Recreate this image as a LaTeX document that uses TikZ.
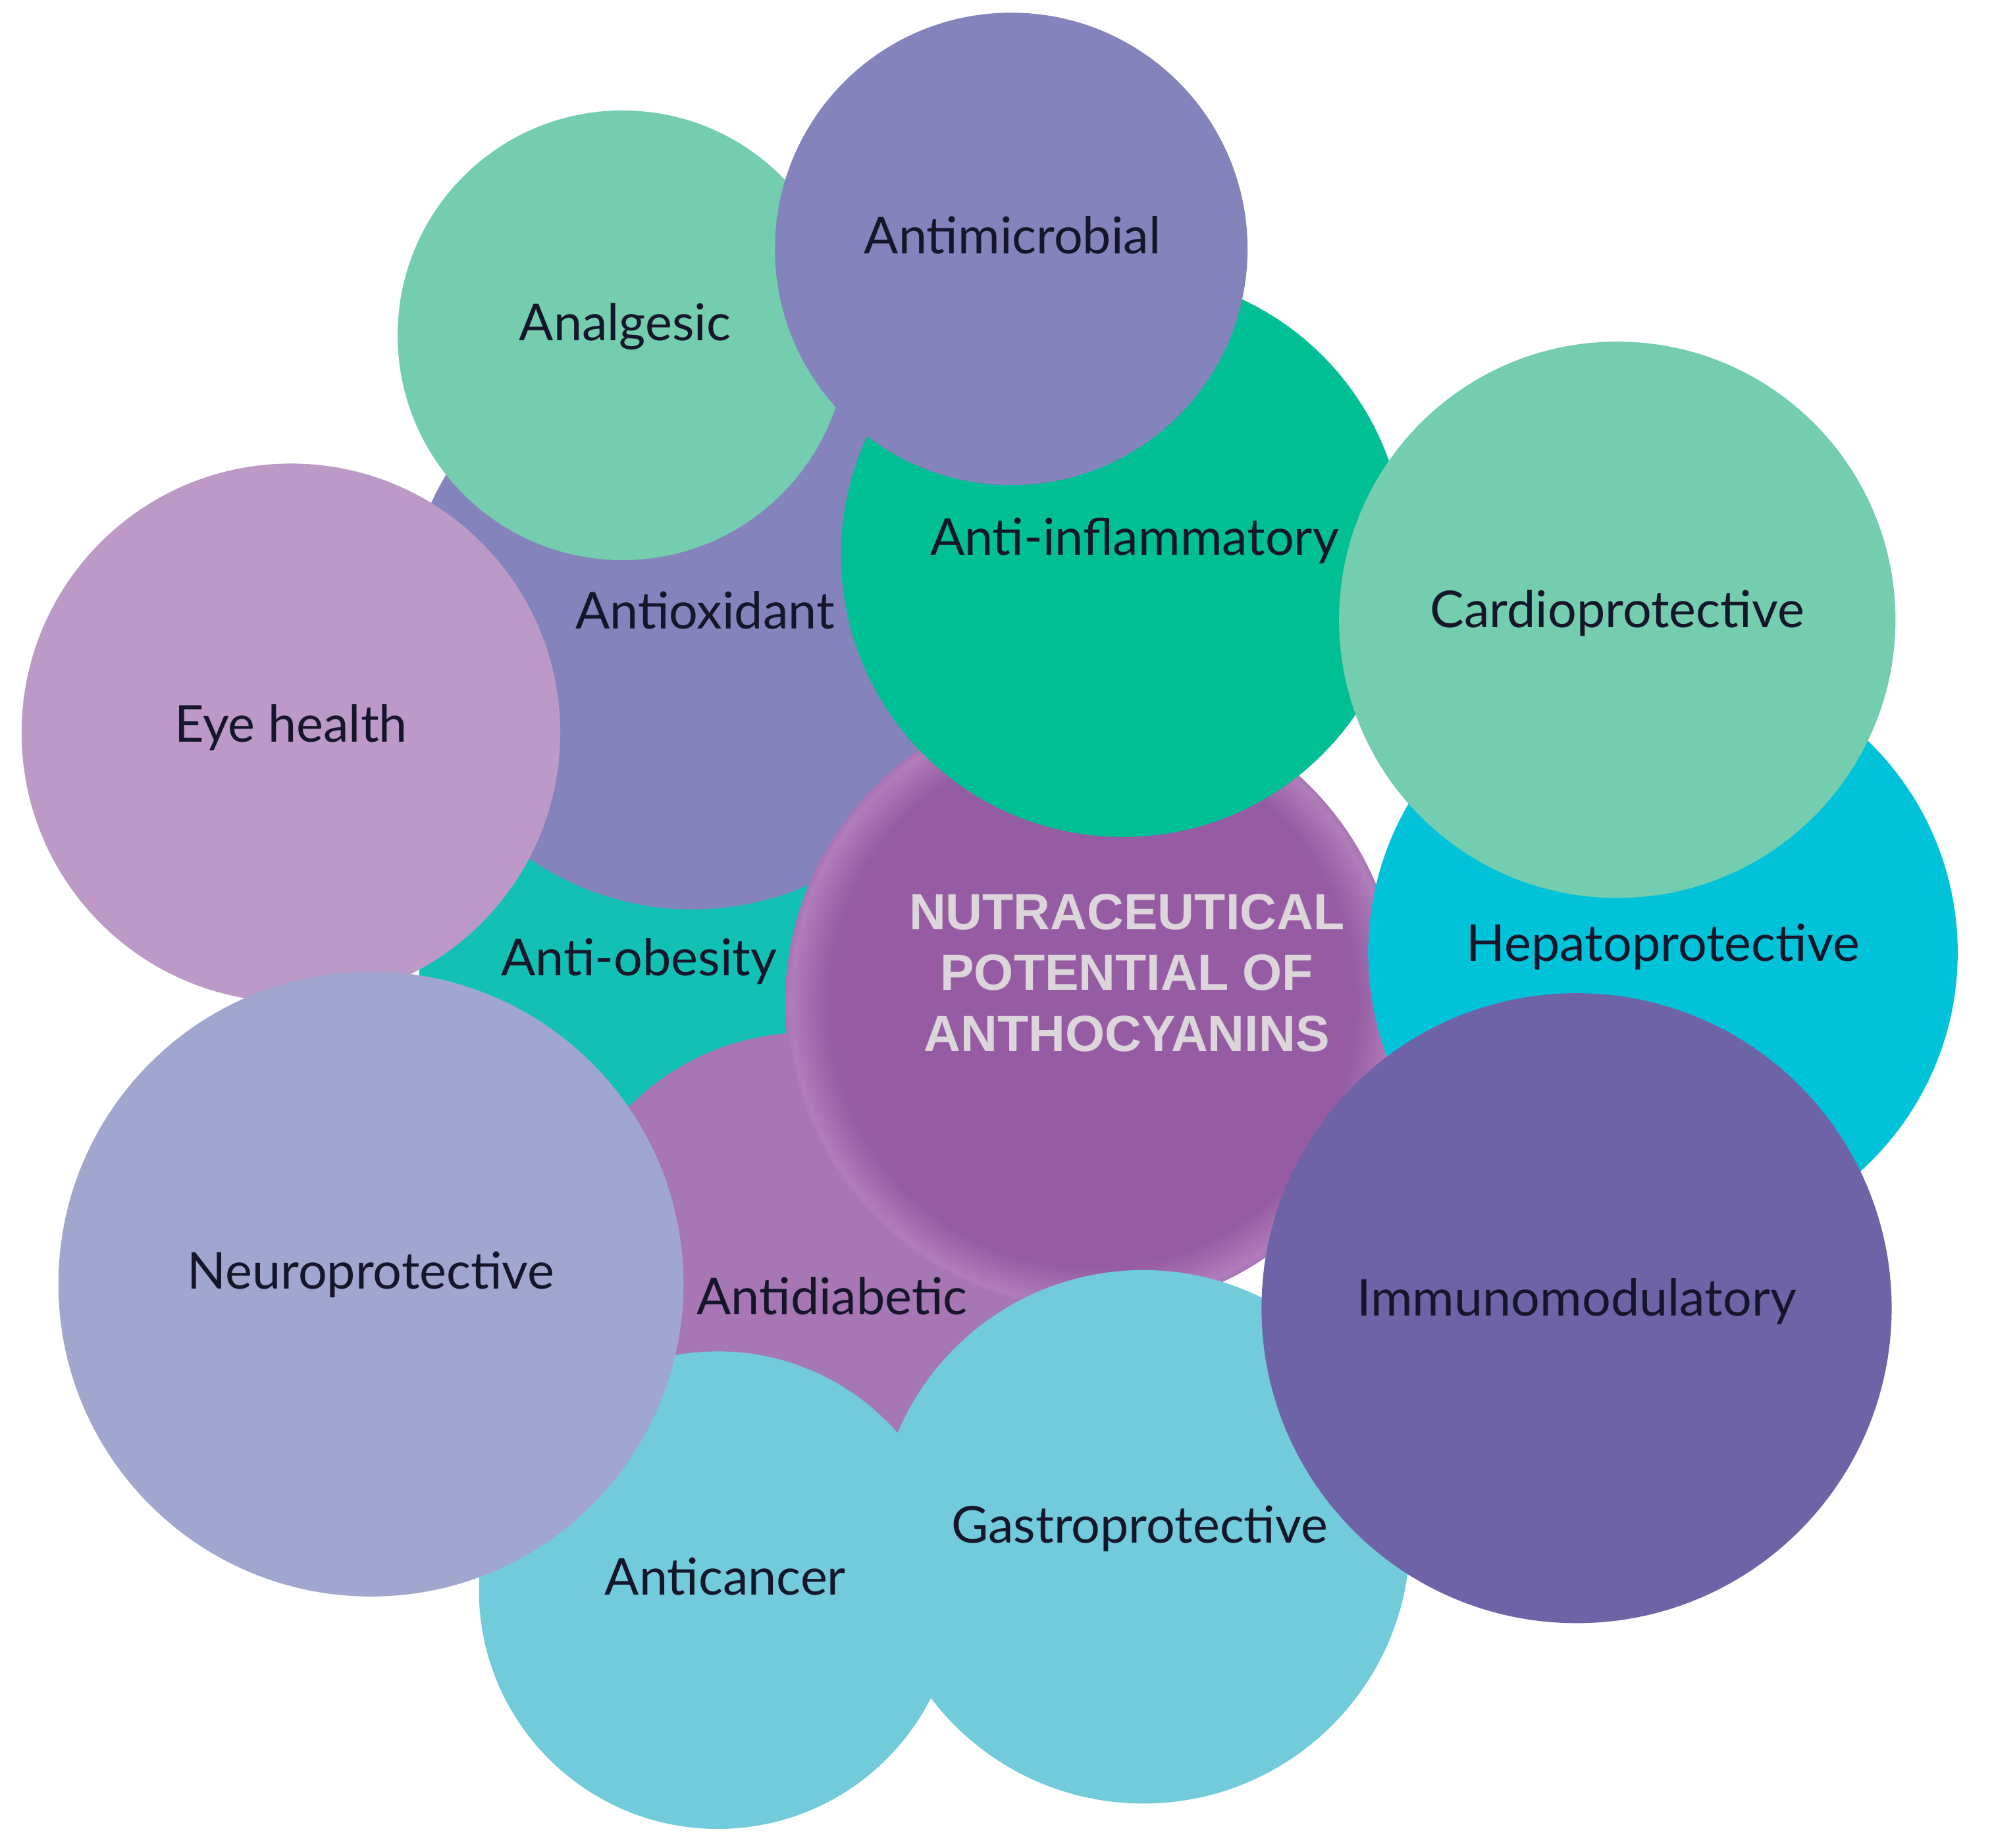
\documentclass[tikz,border=0pt]{standalone}
\usepackage{fontspec}
\setmainfont{Lato}
\newfontfamily\headfont{Liberation Sans}
\definecolor{cGreenL}{HTML}{74CDAE}
\definecolor{cPurpB}{HTML}{8483BC}
\definecolor{cGreen}{HTML}{00BF95}
\definecolor{cEye}{HTML}{BC99C7}
\definecolor{cTeal}{HTML}{12C1B4}
\definecolor{cDiab}{HTML}{A677B2}
\definecolor{cCent}{HTML}{955CA3}
\definecolor{cCentL}{HTML}{C797CD}
\definecolor{cHep}{HTML}{00C3D9}
\definecolor{cImm}{HTML}{6F63A8}
\definecolor{cCyan}{HTML}{72CBDA}
\definecolor{cNeuro}{HTML}{A1A6CE}
\definecolor{cTxt}{HTML}{16162A}
\definecolor{cHead}{HTML}{DCD6DA}
\pgfdeclareradialshading{centshade}{\pgfpoint{0bp}{0bp}}{%
  color(0bp)=(cCent); color(21.5bp)=(cCent); color(24.5bp)=(cCent!45!cCentL); color(25bp)=(cCent!60!cCentL); color(50bp)=(cCent)}
\begin{document}
\begin{tikzpicture}[x=0.0193cm,y=-0.0193cm,
  lbl/.style={text=cTxt,font=\fontsize{22}{26}\selectfont,inner sep=0pt,anchor=base},
  head/.style={text=cHead,font=\headfont\bfseries\fontsize{22}{26.3}\selectfont,align=center,inner sep=0pt}]
\useasboundingbox[fill=white] (0,0) rectangle (1568,1455);
% circles, back to front
\fill[cTeal] (500,770) circle (170);         % anti-obesity
\fill[cPurpB] (545,490) circle (226);        % antioxidant
\fill[cDiab] (635,1010) circle (197);        % antidiabetic
\shade[shading=centshade] (860,790) circle (242); % central
\fill[cHep] (1309,750) circle (232);         % hepatoprotective
\fill[cGreen] (884,437) circle (222);        % anti-inflammatory
\fill[cGreenL] (1273,488) circle (219);      % cardioprotective
\fill[cGreenL] (490,264) circle (177);       % analgesic
\fill[cPurpB] (796,196) circle (186);        % antimicrobial
\fill[cEye] (229,577) circle (212);          % eye health
\fill[cCyan] (565,1252) circle (188);        % anticancer
\fill[cCyan] (900,1210) circle (210);        % gastroprotective
\fill[cImm] (1241,1030) circle (248);        % immunomodulatory
\fill[cNeuro] (292,1011) circle (246);       % neuroprotective
% labels
\node[lbl] (tAnalg) at (492,268) {Analgesic};
\node[lbl] (tAntimic) at (797,200) {Antimicrobial};
\node[lbl] (tAntiinf) at (893,437) {Anti-inflammatory};
\node[lbl] (tAntiox) at (555,495) {Antioxidant};
\node[lbl] (tEye) at (229,584) {Eye health};
\node[lbl] (tCardio) at (1273,494) {Cardioprotective};
\node[lbl] (tObes) at (503,768) {Anti-obesity};
\node[lbl] (tHepa) at (1309,757) {Hepatoprotective};
\node[lbl] (tNeuro) at (292,1015) {Neuroprotective};
\node[lbl] (tDiab) at (655,1035) {Antidiabetic};
\node[lbl] (tImm) at (1241,1036) {Immunomodulatory};
\node[lbl] (tGastro) at (897,1215) {Gastroprotective};
\node[lbl] (tCancer) at (571,1256) {Anticancer};
\node[head] (tCentral) at (887,766) {NUTRACEUTICAL\\POTENTIAL OF\\ANTHOCYANINS};
\end{tikzpicture}
\end{document}
